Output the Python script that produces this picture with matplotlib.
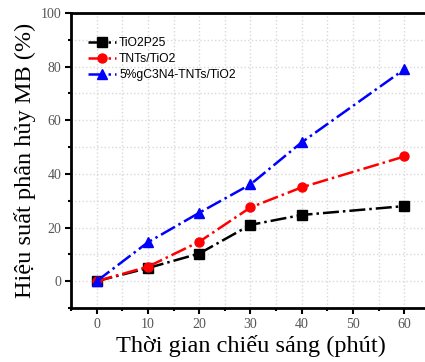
import matplotlib
matplotlib.use("Agg")
import matplotlib.pyplot as plt
from matplotlib.ticker import MultipleLocator

time_min = [0, 10, 20, 30, 40, 60]
tio2_p25 = [0, 4.9, 10.3, 21.0, 24.7, 28.0]
tnts_tio2 = [0, 5.4, 14.7, 27.5, 35.0, 46.5]
gc3n4_tnts = [0, 14.5, 25.5, 36.1, 51.8, 79.0]
labels = ["TiO2P25", "TNTs/TiO2", "5%gC3N4-TNTs/TiO2"]

fig = plt.figure(figsize=(4.25, 3.62), dpi=100)
W, H = 425, 362
left, right, top, bottom = 71, 430, 13, 308
ax = fig.add_axes([left / W, 1 - bottom / H, (right - left) / W, (bottom - top) / H])

series = [(tio2_p25, "black", "s"), (tnts_tio2, "red", "o"), (gc3n4_tnts, "blue", "^")]
for (vals, c, m), lab in zip(series, labels):
    ax.plot(time_min, vals, color=c, marker=m, linestyle="-.", linewidth=1.8,
            markersize=6.5, label=lab, zorder=3)

ax.set_xlim(-5, 65)
ax.set_ylim(-10, 100)
ax.xaxis.set_major_locator(MultipleLocator(10))
ax.xaxis.set_minor_locator(MultipleLocator(5))
ax.yaxis.set_major_locator(MultipleLocator(20))
ax.yaxis.set_minor_locator(MultipleLocator(10))
ax.grid(True, which="both", linestyle=":", color="#d9d9d9", linewidth=1.0, zorder=0)

for s in ax.spines.values():
    s.set_linewidth(2)
    s.set_color("black")

ax.tick_params(which="major", direction="out", length=4, width=1.5, labelsize=10,
               labelcolor="#555555", pad=3)
ax.tick_params(which="minor", direction="out", length=2.5, width=1.5)
for t in ax.get_xticklabels() + ax.get_yticklabels():
    t.set_fontfamily("Liberation Serif")

ax.set_xlabel("Thời gian chiếu sáng (phút)", fontsize=17.5, family="Liberation Serif", labelpad=3)
ax.set_ylabel("Hiệu suất phân hủy MB (%)", fontsize=17.5, family="Liberation Serif", labelpad=3)

leg = ax.legend(loc="upper left", bbox_to_anchor=(0.035, 0.935), frameon=False,
                prop={"family": "Liberation Sans", "size": 8.7}, handlelength=2.3,
                handletextpad=0.25, labelspacing=0.35, borderaxespad=0)

fig.savefig("out.png", dpi=100)
